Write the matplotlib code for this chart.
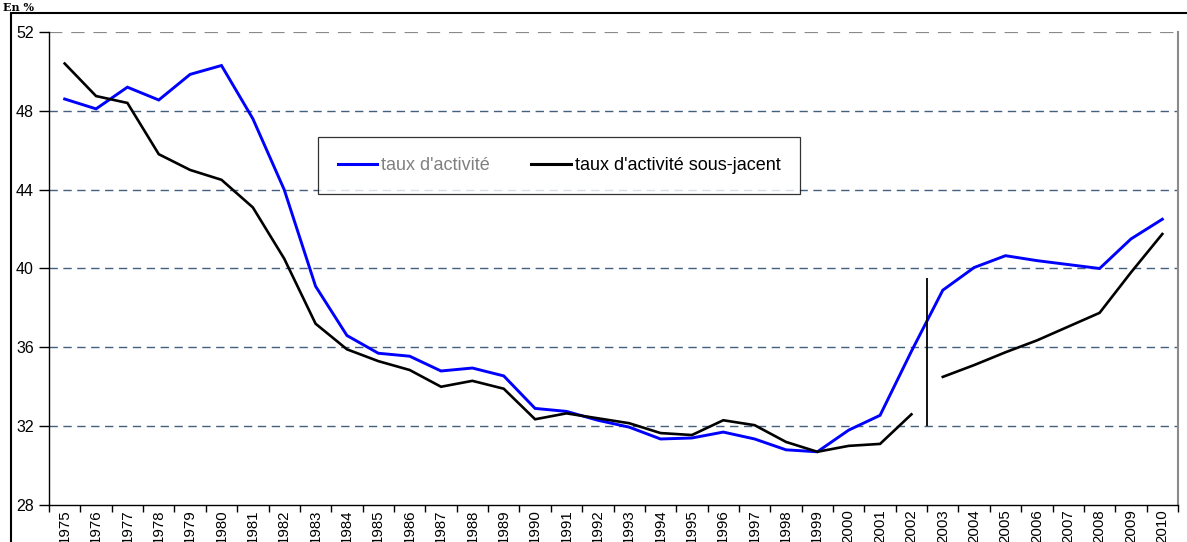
import matplotlib
matplotlib.use("Agg")
import matplotlib.pyplot as plt
import numpy as np
from matplotlib.patches import Rectangle
from matplotlib.lines import Line2D
from matplotlib import font_manager

plt.rcParams['font.family'] = ['Liberation Sans', 'DejaVu Sans']
narrow_names = {f.name for f in font_manager.fontManager.ttflist}
xfam = ['Liberation Sans Narrow', 'Liberation Sans'] if 'Liberation Sans Narrow' in narrow_names else ['Liberation Sans']

years = [str(y) for y in range(1975, 2011)]
taux_activite = [48.6, 48.1, 49.2, 48.55, 49.85, 50.3, 47.6, 44.0, 39.1, 36.6,
                 35.7, 35.55, 34.8, 34.95, 34.55, 32.9, 32.75, 32.3, 31.95, 31.35,
                 31.4, 31.7, 31.35, 30.8, 30.7, 31.8, 32.55, 35.8, 38.9, 40.05,
                 40.65, 40.4, 40.2, 40.0, 41.5, 42.5]
taux_sous_jacent = [50.4, 48.75, 48.4, 45.8, 45.0, 44.5, 43.1, 40.5, 37.2, 35.9,
                    35.3, 34.85, 34.0, 34.3, 33.9, 32.35, 32.65, 32.4, 32.15, 31.65,
                    31.55, 32.3, 32.05, 31.2, 30.7, 31.0, 31.1, 32.6, None, None,
                    None, None, None, None, None, None]
taux_sous_jacent_2003 = [None] * 28 + [34.5, 35.1, 35.75, 36.35, 37.05, 37.75, 39.8, 41.75]
break_range = (32, 39.5)
yticks = [28, 32, 36, 40, 44, 48, 52]
legend_labels = ["taux d'activité", "taux d'activité sous-jacent"]

W, H = 1187, 542
fig = plt.figure(figsize=(W / 100, H / 100), dpi=100)
ax = fig.add_axes([49 / W, 1 - 505 / H, (1178 - 49) / W, (505 - 32) / H])

x = np.arange(len(years))
sj = np.array([np.nan if v is None else v for v in taux_sous_jacent], dtype=float)
sj2 = np.array([np.nan if v is None else v for v in taux_sous_jacent_2003], dtype=float)

grid_col = '#44607f'
for yv in yticks[1:-1]:
    ax.axhline(yv, color=grid_col, lw=1.0, ls=(0, (6, 4)), zorder=1)
ax.axhline(52, color='#8a8a8a', lw=1.6, ls=(0, (6, 4)), zorder=1)

ax.plot(x, np.array(taux_activite), color='#0000ff', lw=2.1, zorder=3, solid_joinstyle='miter')
ax.plot(x, sj, color='black', lw=1.9, zorder=4, solid_joinstyle='miter')
ax.plot(x, sj2, color='black', lw=1.9, zorder=4, solid_joinstyle='miter')
ax.vlines(27.5, break_range[0], break_range[1], color='black', lw=1.3, zorder=5)

ax.set_xlim(-0.5, len(years) - 0.5)
ax.set_ylim(28, 52)
ax.set_yticks(yticks)
ax.set_yticklabels([str(v) for v in yticks], fontsize=11.5)
ax.tick_params(axis='y', length=7, width=1, pad=4, direction='out')
ax.set_xticks(x)
ax.set_xticklabels(years, rotation=90, fontsize=10.8, family=xfam)
ax.set_xticks(np.arange(len(years) + 1) - 0.5, minor=True)
ax.tick_params(axis='x', which='major', length=0, pad=3)
ax.tick_params(axis='x', which='minor', length=5, width=1, direction='out')

ax.spines['top'].set_visible(False)
ax.spines['right'].set_color('#8a8a8a')
ax.spines['right'].set_linewidth(1.5)
ax.spines['left'].set_linewidth(1.0)
ax.spines['bottom'].set_linewidth(1.0)

handles = [Line2D([], [], color='#0000ff', lw=2.2), Line2D([], [], color='black', lw=2.2)]
leg = fig.legend(handles, legend_labels, ncol=2, loc='center',
                 bbox_to_anchor=(559 / W, 1 - 165.5 / H), fontsize=13,
                 frameon=True, fancybox=False, edgecolor='black', handlelength=2.2,
                 handletextpad=0.2, columnspacing=2.3, borderpad=1.1, borderaxespad=0)
leg.get_frame().set_linewidth(0.9)
leg.get_texts()[0].set_color('#808080')
leg.set_zorder(10)

fig.patches.append(Rectangle((11 / W, -0.05), 1.2, 1 - 13 / H + 0.05, transform=fig.transFigure,
                             fill=False, edgecolor='black', lw=1.5, zorder=0))
fig.text(3 / W, 1 - 11 / H, 'En %', fontsize=8, fontweight='bold', family='DejaVu Serif',
         va='baseline', ha='left')

fig.savefig('out.png', dpi=100)
